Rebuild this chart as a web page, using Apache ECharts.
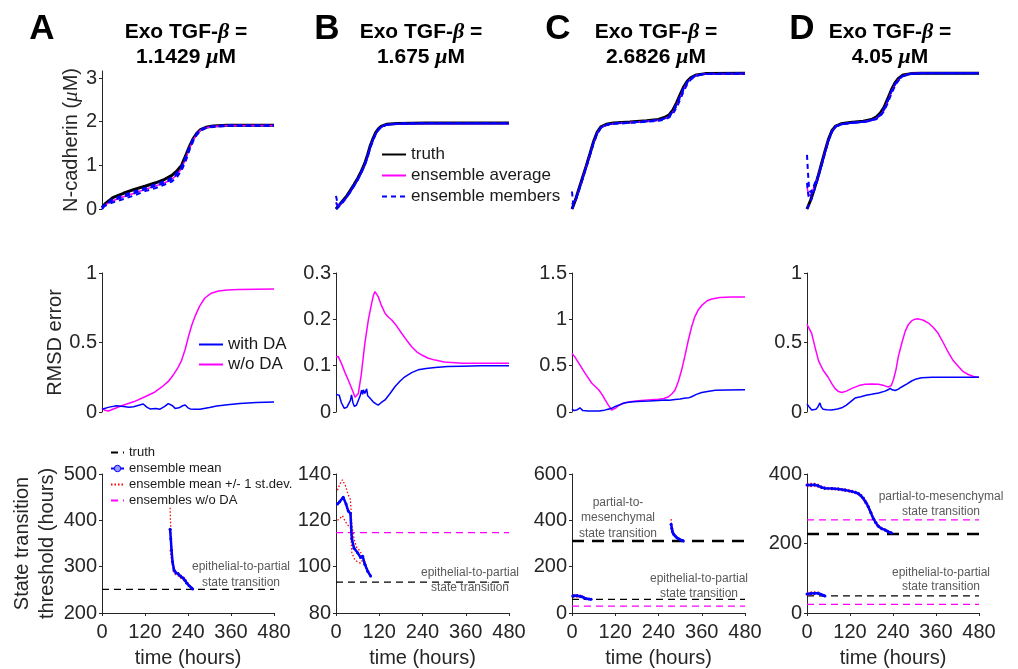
<!DOCTYPE html>
<html>
<head>
<meta charset="utf-8">
<script src="https://cdn.jsdelivr.net/npm/echarts@6/dist/echarts.min.js"></script>
<style>
  html, body { margin: 0; padding: 0; background: #fff; }
  #main { width: 1018px; height: 669px; }
</style>
</head>
<body>
<div id="main"></div>
<script>
// tick labels
const timeTicks = [0, 120, 240, 360, 480]
const ncadTicks = [0, 1, 2, 3]
const rmsdTicksA = [0, 0.5, 1]
const rmsdTicksB = [0, 0.1, 0.2, 0.3]
const rmsdTicksC = [0, 0.5, 1, 1.5]
const rmsdTicksD = [0, 0.5, 1]
const thrTicksA = [200, 300, 400, 500]
const thrTicksB = [80, 100, 120, 140]
const thrTicksC = [0, 200, 400, 600]
const thrTicksD = [0, 200, 400]

const doses = ['1.1429', '1.675', '2.6826', '4.05']
const letters = ['A', 'B', 'C', 'D']

// row 1: N-cadherin [time, value]
const truthA = [[0, 0.03], [10, 0.13], [30, 0.26], [60, 0.36], [90, 0.45], [120, 0.52], [150, 0.6], [175, 0.68], [195, 0.77], [210, 0.88], [222, 1.0], [235, 1.25], [245, 1.45], [255, 1.62], [265, 1.74], [275, 1.82], [290, 1.87], [310, 1.9], [350, 1.92], [480, 1.92]]
const avgA = [[0, 0.03], [10, 0.1], [30, 0.19], [60, 0.28], [90, 0.36], [120, 0.45], [150, 0.53], [175, 0.6], [195, 0.68], [210, 0.79], [222, 0.93], [235, 1.18], [245, 1.41], [255, 1.59], [265, 1.72], [275, 1.81], [290, 1.86], [310, 1.89], [350, 1.91], [480, 1.91]]
const memA1 = [[0, 0.0], [10, 0.1], [30, 0.2], [60, 0.28], [90, 0.36], [120, 0.45], [150, 0.53], [175, 0.6], [195, 0.68], [210, 0.8], [222, 0.94], [235, 1.2], [245, 1.42], [255, 1.6], [265, 1.72], [275, 1.81], [290, 1.86], [310, 1.89], [350, 1.91], [480, 1.91]]
const memA2 = [[0, 0.06], [10, 0.08], [30, 0.15], [60, 0.23], [90, 0.31], [120, 0.41], [150, 0.48], [175, 0.56], [195, 0.63], [210, 0.74], [222, 0.88], [235, 1.13], [245, 1.37], [255, 1.56], [265, 1.7], [275, 1.79], [290, 1.85], [310, 1.88], [350, 1.9], [480, 1.9]]
const memA3 = [[0, 0.03], [10, 0.12], [30, 0.23], [60, 0.32], [90, 0.4], [120, 0.48], [150, 0.57], [175, 0.64], [195, 0.72], [210, 0.84], [222, 0.97], [235, 1.22], [245, 1.44], [255, 1.62], [265, 1.73], [275, 1.82], [290, 1.87], [310, 1.9], [350, 1.92], [480, 1.92]]

const truthB = [[0, 0.0], [10, 0.1], [20, 0.2], [30, 0.3], [40, 0.43], [50, 0.56], [60, 0.7], [70, 0.86], [80, 1.05], [88, 1.25], [95, 1.45], [103, 1.62], [110, 1.75], [118, 1.84], [125, 1.89], [140, 1.94], [170, 1.96], [250, 1.97], [480, 1.97]]
const avgB = [[0, 0.12], [5, 0.08], [10, 0.08], [20, 0.18], [30, 0.28], [40, 0.4], [50, 0.53], [60, 0.67], [70, 0.83], [80, 1.01], [88, 1.21], [95, 1.41], [103, 1.59], [110, 1.72], [118, 1.82], [125, 1.88], [140, 1.93], [170, 1.95], [250, 1.96], [480, 1.96]]
const memB1 = [[0, 0.3], [4, 0.14], [10, 0.1], [20, 0.18], [30, 0.28], [40, 0.4], [50, 0.53], [60, 0.67], [70, 0.83], [80, 1.01], [88, 1.21], [95, 1.41], [103, 1.59], [110, 1.72], [118, 1.82], [125, 1.88], [140, 1.93], [170, 1.95], [250, 1.96], [480, 1.96]]
const memB2 = [[0, 0.0], [10, 0.07], [20, 0.16], [30, 0.27], [40, 0.39], [50, 0.52], [60, 0.66], [70, 0.82], [80, 1.0], [88, 1.19], [95, 1.39], [103, 1.57], [110, 1.71], [118, 1.81], [125, 1.87], [140, 1.93], [170, 1.95], [250, 1.96], [480, 1.96]]
const memB3 = [[0, 0.15], [5, 0.06], [10, 0.08], [20, 0.19], [30, 0.29], [40, 0.42], [50, 0.55], [60, 0.69], [70, 0.85], [80, 1.03], [88, 1.23], [95, 1.43], [103, 1.6], [110, 1.73], [118, 1.83], [125, 1.88], [140, 1.93], [170, 1.96], [250, 1.97], [480, 1.97]]

const truthC = [[0, 0.0], [10, 0.22], [20, 0.48], [30, 0.74], [40, 1.0], [50, 1.27], [60, 1.55], [70, 1.76], [80, 1.88], [95, 1.94], [115, 1.97], [160, 1.99], [207, 2.02], [240, 2.05], [258, 2.1], [270, 2.16], [280, 2.27], [290, 2.43], [300, 2.62], [310, 2.8], [320, 2.93], [330, 3.01], [345, 3.07], [370, 3.1], [480, 3.11]]
const avgC = [[0, 0.12], [10, 0.2], [20, 0.46], [30, 0.72], [40, 0.98], [50, 1.25], [60, 1.53], [70, 1.74], [80, 1.86], [95, 1.93], [115, 1.96], [160, 1.98], [207, 2.01], [240, 2.03], [258, 2.07], [270, 2.12], [280, 2.22], [290, 2.37], [300, 2.56], [310, 2.75], [320, 2.9], [330, 2.99], [345, 3.06], [370, 3.09], [480, 3.1]]
const memC1 = [[0, 0.4], [3, 0.12], [10, 0.2], [20, 0.46], [30, 0.72], [40, 0.98], [50, 1.25], [60, 1.53], [70, 1.74], [80, 1.86], [95, 1.93], [115, 1.96], [160, 1.98], [207, 2.01], [240, 2.03], [258, 2.07], [270, 2.12], [280, 2.21], [290, 2.36], [300, 2.55], [310, 2.74], [320, 2.89], [330, 2.99], [345, 3.06], [370, 3.09], [480, 3.1]]
const memC2 = [[0, 0.0], [10, 0.19], [20, 0.44], [30, 0.7], [40, 0.96], [50, 1.23], [60, 1.5], [70, 1.72], [80, 1.85], [95, 1.92], [115, 1.95], [160, 1.97], [207, 2.0], [240, 2.02], [258, 2.05], [270, 2.1], [280, 2.18], [290, 2.32], [300, 2.5], [310, 2.7], [320, 2.86], [330, 2.97], [345, 3.05], [370, 3.09], [480, 3.1]]
const memC3 = [[0, 0.1], [10, 0.21], [20, 0.47], [30, 0.73], [40, 0.99], [50, 1.26], [60, 1.54], [70, 1.75], [80, 1.87], [95, 1.93], [115, 1.96], [160, 1.98], [207, 2.01], [240, 2.04], [258, 2.08], [270, 2.14], [280, 2.24], [290, 2.4], [300, 2.59], [310, 2.77], [320, 2.91], [330, 3.0], [345, 3.07], [370, 3.1], [480, 3.11]]

const truthD = [[0, 0.0], [10, 0.2], [20, 0.45], [30, 0.72], [40, 1.02], [50, 1.32], [60, 1.6], [70, 1.8], [80, 1.9], [95, 1.95], [120, 1.98], [157, 2.01], [180, 2.05], [194, 2.11], [205, 2.2], [215, 2.33], [225, 2.52], [235, 2.72], [245, 2.88], [255, 2.99], [268, 3.07], [290, 3.1], [320, 3.11], [480, 3.11]]
const avgD = [[0, 0.5], [4, 0.35], [8, 0.3], [14, 0.38], [20, 0.5], [30, 0.71], [40, 1.0], [50, 1.3], [60, 1.58], [70, 1.78], [80, 1.89], [95, 1.94], [120, 1.97], [157, 2.0], [180, 2.03], [194, 2.08], [205, 2.15], [215, 2.27], [225, 2.46], [235, 2.67], [245, 2.84], [255, 2.96], [268, 3.05], [290, 3.1], [320, 3.11], [480, 3.11]]
const memD1 = [[0, 1.24], [3, 0.8], [6, 0.45], [10, 0.38], [15, 0.45], [20, 0.55], [30, 0.74], [40, 1.0], [50, 1.3], [60, 1.58], [70, 1.78], [80, 1.89], [95, 1.94], [120, 1.97], [157, 2.0], [180, 2.03], [194, 2.08], [205, 2.15], [215, 2.27], [225, 2.46], [235, 2.67], [245, 2.84], [255, 2.96], [268, 3.05], [290, 3.1], [320, 3.11], [480, 3.11]]
const memD2 = [[0, 0.0], [10, 0.17], [20, 0.42], [30, 0.68], [40, 0.97], [50, 1.27], [60, 1.56], [70, 1.77], [80, 1.88], [95, 1.94], [120, 1.97], [157, 1.99], [180, 2.02], [194, 2.06], [205, 2.13], [215, 2.24], [225, 2.42], [235, 2.63], [245, 2.81], [255, 2.94], [268, 3.04], [290, 3.09], [320, 3.11], [480, 3.11]]
const memD3 = [[0, 0.6], [4, 0.3], [8, 0.25], [14, 0.35], [20, 0.5], [30, 0.7], [40, 0.99], [50, 1.29], [60, 1.58], [70, 1.79], [80, 1.89], [95, 1.94], [120, 1.97], [157, 2.0], [180, 2.04], [194, 2.09], [205, 2.17], [215, 2.3], [225, 2.49], [235, 2.7], [245, 2.86], [255, 2.97], [268, 3.06], [290, 3.1], [320, 3.11], [480, 3.11]]

// row 2: RMSD error
const withDaA = [[0, 0.02], [20, 0.035], [41, 0.045], [60, 0.04], [75, 0.035], [88, 0.038], [105, 0.05], [115, 0.058], [125, 0.035], [134, 0.022], [150, 0.025], [162, 0.02], [175, 0.04], [185, 0.06], [190, 0.067], [197, 0.045], [204, 0.026], [215, 0.03], [225, 0.045], [232, 0.05], [240, 0.03], [246, 0.022], [260, 0.02], [273, 0.02], [300, 0.033], [320, 0.043], [350, 0.053], [385, 0.062], [430, 0.068], [480, 0.072]]
const woDaA = [[0, 0.027], [8, 0.012], [18, 0.007], [30, 0.02], [55, 0.045], [90, 0.075], [120, 0.11], [145, 0.14], [167, 0.18], [185, 0.22], [200, 0.27], [212, 0.32], [222, 0.37], [232, 0.45], [241, 0.54], [250, 0.62], [260, 0.69], [272, 0.76], [287, 0.82], [305, 0.855], [325, 0.87], [350, 0.878], [380, 0.882], [480, 0.885]]
const withDaB = [[0, 0.038], [3, 0.04], [9, 0.036], [15, 0.02], [23, 0.008], [30, 0.01], [34, 0.012], [40, 0.025], [43, 0.037], [47, 0.02], [51, 0.012], [57, 0.015], [62, 0.019], [67, 0.035], [71, 0.047], [74, 0.038], [76, 0.048], [80, 0.04], [85, 0.05], [88, 0.035], [94, 0.03], [98, 0.032], [103, 0.022], [110, 0.018], [117, 0.015], [125, 0.02], [136, 0.026], [150, 0.04], [164, 0.055], [178, 0.067], [191, 0.076], [210, 0.085], [228, 0.091], [250, 0.094], [275, 0.096], [310, 0.098], [350, 0.099], [400, 0.1], [480, 0.1]]
const woDaB = [[0, 0.119], [6, 0.12], [15, 0.105], [25, 0.085], [34, 0.069], [45, 0.048], [53, 0.032], [58, 0.031], [62, 0.04], [70, 0.08], [80, 0.148], [90, 0.2], [99, 0.235], [104, 0.252], [108, 0.26], [112, 0.257], [117, 0.249], [126, 0.23], [136, 0.213], [145, 0.205], [154, 0.199], [168, 0.186], [182, 0.17], [196, 0.155], [210, 0.141], [224, 0.13], [238, 0.123], [256, 0.116], [275, 0.112], [300, 0.108], [350, 0.105], [480, 0.105]]
const withDaC = [[0, 0.03], [6, 0.015], [10, 0.01], [15, 0.025], [20, 0.04], [22, 0.045], [26, 0.03], [30, 0.015], [45, 0.012], [60, 0.01], [75, 0.012], [90, 0.02], [100, 0.03], [110, 0.04], [120, 0.06], [133, 0.08], [147, 0.1], [170, 0.11], [195, 0.117], [214, 0.12], [240, 0.125], [260, 0.13], [270, 0.127], [286, 0.135], [300, 0.14], [315, 0.15], [325, 0.155], [332, 0.165], [345, 0.19], [360, 0.21], [380, 0.225], [398, 0.235], [430, 0.238], [480, 0.24]]
const woDaC = [[0, 0.63], [7, 0.6], [20, 0.52], [36, 0.42], [55, 0.31], [74, 0.24], [85, 0.18], [92, 0.13], [100, 0.08], [110, 0.022], [114, 0.02], [120, 0.04], [130, 0.07], [142, 0.094], [160, 0.11], [184, 0.122], [210, 0.13], [240, 0.137], [255, 0.145], [268, 0.165], [278, 0.2], [286, 0.237], [295, 0.33], [304, 0.45], [313, 0.6], [323, 0.78], [332, 0.92], [341, 1.03], [350, 1.1], [360, 1.15], [375, 1.2], [388, 1.22], [410, 1.235], [443, 1.24], [480, 1.24]]
const withDaD = [[0, 0.058], [4, 0.045], [8, 0.03], [13, 0.015], [18, 0.01], [25, 0.02], [30, 0.035], [33, 0.045], [36, 0.065], [40, 0.035], [45, 0.02], [55, 0.017], [69, 0.015], [85, 0.022], [97, 0.03], [110, 0.05], [122, 0.075], [134, 0.1], [150, 0.11], [165, 0.12], [180, 0.127], [200, 0.137], [218, 0.15], [226, 0.16], [232, 0.17], [238, 0.16], [246, 0.155], [255, 0.165], [264, 0.18], [278, 0.2], [292, 0.223], [305, 0.238], [320, 0.247], [350, 0.25], [480, 0.25]]
const woDaD = [[0, 0.63], [5, 0.62], [13, 0.566], [22, 0.47], [32, 0.37], [45, 0.3], [59, 0.25], [70, 0.2], [78, 0.17], [88, 0.147], [97, 0.14], [110, 0.15], [125, 0.17], [145, 0.19], [162, 0.2], [180, 0.202], [199, 0.2], [215, 0.19], [227, 0.18], [235, 0.19], [241, 0.23], [248, 0.3], [255, 0.4], [265, 0.5], [274, 0.58], [283, 0.63], [292, 0.655], [301, 0.668], [311, 0.67], [325, 0.66], [339, 0.64], [352, 0.61], [366, 0.566], [380, 0.5], [394, 0.43], [408, 0.37], [422, 0.33], [436, 0.29], [450, 0.27], [465, 0.255], [480, 0.25]]

// row 3: state transition thresholds (hours)
const thrTruthA = [251]
const thrWoA = []
const thrTruthB = [93.3]
const thrWoB = [114.7]
const thrTruthC = [59]
const thrTruthC2 = [311]
const thrWoC = [30]
const thrTruthD = [49]
const thrTruthD2 = [227]
const thrWoD = [25, 268]

const meanA = [[190, 381], [192, 360], [194, 336], [197, 310], [201, 293], [206, 287], [213, 284], [220, 279], [227, 275], [232, 270], [236, 265], [243, 259], [250, 254], [253, 252]]
const upA = [[190, 427], [191, 400], [193, 360], [196, 320], [200, 300], [206, 290], [213, 287], [220, 282], [227, 278], [233, 272], [238, 267], [245, 260], [250, 256], [253, 253]]
const loA = [[190, 336], [192, 325], [195, 310], [199, 290], [205, 283], [213, 280], [220, 275], [227, 271], [233, 266], [238, 262], [245, 257], [250, 252], [253, 250]]

const meanB = [[4, 127], [10, 128], [20, 130], [28, 127], [34, 124], [40, 123], [44, 112], [50, 108], [60, 106], [68, 104], [74, 104.5], [80, 101], [88, 98], [96, 96]]
const upB = [[4, 133], [12, 136], [18, 137.5], [26, 135], [34, 131], [40, 129], [44, 118], [50, 112], [58, 108], [66, 107], [72, 105], [80, 102], [90, 98], [96, 95.5]]
const loB = [[4, 120], [12, 121], [18, 122], [24, 120], [32, 118], [40, 117], [44, 106], [52, 103], [60, 102], [68, 101.5], [74, 103], [82, 100], [90, 97], [96, 95.5]]

const meanC = [[2, 73], [8, 74], [15, 74], [22, 72], [28, 70], [34, 65], [40, 62], [47, 60], [53, 59]]
const upC = [[2, 78], [8, 79], [15, 79], [22, 77], [28, 74], [34, 68], [40, 64], [47, 61], [53, 60]]
const loC = [[2, 68], [8, 69], [15, 69], [22, 67], [28, 65], [34, 61], [40, 59], [47, 58], [53, 58]]
const meanC2 = [[275, 383], [277, 365], [279, 350], [282, 340], [286, 332], [291, 325], [296, 320], [301, 316], [306, 313], [309, 311]]
const upC2 = [[275, 405], [276, 385], [278, 365], [281, 350], [285, 338], [290, 328], [296, 322], [301, 317], [306, 314], [309, 312]]
const loC2 = [[275, 370], [277, 355], [280, 343], [284, 334], [289, 326], [295, 320], [301, 315], [306, 312], [309, 310]]

const meanD = [[0, 55], [10, 56], [20, 57], [31, 57], [38, 54], [45, 51], [50, 49]]
const upD = [[0, 59], [10, 60], [20, 61], [31, 60], [38, 57], [45, 53], [50, 50]]
const loD = [[0, 51], [10, 52], [20, 53], [31, 54], [38, 51], [45, 49], [50, 48]]
const meanD2 = [[0, 368], [10, 368], [20, 369], [31, 366], [40, 362], [50, 359], [70, 358], [87, 357], [105, 354], [125, 350], [135, 347], [143, 344], [150, 338], [157, 330], [164, 319], [171, 306], [178, 289], [185, 272], [192, 260], [199, 250], [208, 243], [218, 239], [225, 235], [232, 232], [236, 230]]
const upD2 = [[0, 372], [10, 373], [20, 373], [31, 370], [40, 365], [50, 362], [70, 360], [87, 359], [105, 357], [125, 353], [135, 350], [143, 347], [150, 342], [157, 335], [164, 324], [171, 311], [178, 294], [185, 277], [192, 264], [199, 254], [208, 246], [218, 241], [225, 237], [232, 233], [236, 231]]
const loD2 = [[0, 364], [10, 364], [20, 365], [31, 362], [40, 359], [50, 356], [70, 355], [87, 354], [105, 351], [125, 347], [135, 344], [143, 340], [150, 334], [157, 325], [164, 314], [171, 301], [178, 284], [185, 268], [192, 256], [199, 247], [208, 240], [218, 236], [225, 233], [232, 230], [236, 229]]

// 布局
const FONT = '"Liberation Sans", Arial, Helvetica, sans-serif'
const AXC = '#262626'
const colLeft = [102, 336, 572, 807]
const colWidth = [172, 173, 173, 172]
const rowTop = [71, 273, 474]
const rowHeight = [138, 139, 139]
const ncadMax = 3.16

const grids = []
const xAxes = []
const yAxes = []
const series = []

function addPanel(row, col, yTicks, yMax, showY, yName, nameGap, nameStyle) {
  grids.push({
    left: colLeft[col], top: rowTop[row], width: colWidth[col], height: rowHeight[row],
    containLabel: false, outerBoundsMode: 'none'
  })
  const gi = grids.length - 1
  xAxes.push({
    gridIndex: gi, type: 'value', min: timeTicks[0], max: timeTicks[timeTicks.length - 1],
    interval: timeTicks[1] - timeTicks[0],
    show: row === 2,
    axisLine: { show: true, onZero: false, lineStyle: { color: AXC, width: 1 } },
    axisTick: { show: true, length: 3, lineStyle: { color: AXC } },
    axisLabel: { margin: 9, fontSize: 20, color: AXC, fontFamily: FONT },
    splitLine: { show: false },
    name: 'time (hours)', nameLocation: 'middle', nameGap: 35,
    nameTextStyle: { fontSize: 20, color: AXC, fontFamily: FONT }
  })
  yAxes.push({
    gridIndex: gi, type: 'value', min: yTicks[0], max: yMax,
    interval: yTicks[1] - yTicks[0],
    show: showY,
    axisLine: { show: true, onZero: false, lineStyle: { color: AXC, width: 1 } },
    axisTick: { show: true, length: 3, customValues: yTicks, lineStyle: { color: AXC } },
    axisLabel: { margin: 5, fontSize: 20, color: AXC, fontFamily: FONT, customValues: yTicks },
    splitLine: { show: false },
    name: yName || '', nameLocation: 'middle', nameGap: nameGap || 0,
    nameTextStyle: Object.assign({ fontSize: 20, color: AXC, fontFamily: FONT }, nameStyle || {})
  })
  return gi
}

function line(gi, name, data, color, width, type, extra) {
  return Object.assign({
    type: 'line', name: name, xAxisIndex: gi, yAxisIndex: gi, data: data,
    symbol: 'none', silent: true, animation: false, clip: true,
    lineStyle: { color: color, width: width, type: type },
    itemStyle: { color: color }
  }, extra || {})
}

function hline(gi, name, value, color, width, dash) {
  return line(gi, name, [[timeTicks[0], value], [timeTicks[timeTicks.length - 1], value]], color, width, dash)
}

// row 1
const ncadData = [
  [truthA, avgA, [memA1, memA2, memA3]],
  [truthB, avgB, [memB1, memB2, memB3]],
  [truthC, avgC, [memC1, memC2, memC3]],
  [truthD, avgD, [memD1, memD2, memD3]]
]
ncadData.forEach((d, col) => {
  const gi = addPanel(0, col, ncadTicks, ncadMax, col === 0, '{n|N-cadherin (}{i|μ}{n|M)}', 18, {
    rich: {
      n: { fontSize: 20, color: AXC, fontFamily: FONT },
      i: { fontSize: 21, color: AXC, fontFamily: '"Liberation Serif", "DejaVu Serif", serif', fontStyle: 'italic' }
    }
  })
  series.push(line(gi, 'truth', d[0], '#000000', 3, 'solid'))
  series.push(line(gi, 'ensemble average', d[1], '#ff00ff', 1.5, 'solid'))
  d[2].forEach(m => series.push(line(gi, 'ensemble members', m, '#0000ff', 2, [5, 4])))
})

// row 2
const rmsdData = [
  [rmsdTicksA, withDaA, woDaA],
  [rmsdTicksB, withDaB, woDaB],
  [rmsdTicksC, withDaC, woDaC],
  [rmsdTicksD, withDaD, woDaD]
]
rmsdData.forEach((d, col) => {
  const ticks = d[0]
  const gi = addPanel(1, col, ticks, ticks[ticks.length - 1], true, col === 0 ? 'RMSD error' : '', 37)
  series.push(line(gi, 'w/o DA', d[2], '#ff00ff', 1.5, 'solid'))
  series.push(line(gi, 'with DA', d[1], '#0000ff', 1.5, 'solid'))
})

// row 3
const thrData = [
  { ticks: thrTicksA, truth: thrTruthA, truth2: [], wo: thrWoA, bands: [[meanA, upA, loA]] },
  { ticks: thrTicksB, truth: thrTruthB, truth2: [], wo: thrWoB, bands: [[meanB, upB, loB]] },
  { ticks: thrTicksC, truth: thrTruthC, truth2: thrTruthC2, wo: thrWoC, bands: [[meanC, upC, loC], [meanC2, upC2, loC2]] },
  { ticks: thrTicksD, truth: thrTruthD, truth2: thrTruthD2, wo: thrWoD, bands: [[meanD, upD, loD], [meanD2, upD2, loD2]] }
]
thrData.forEach((d, col) => {
  const ticks = d.ticks
  const gi = addPanel(2, col, ticks, ticks[ticks.length - 1], true,
    col === 0 ? 'State transition\nthreshold (hours)' : '', 33, { lineHeight: 25 })
  d.truth.forEach(v => series.push(hline(gi, 'truth3', v, '#000000', 1.3, [7, 5])))
  d.truth2.forEach(v => series.push(hline(gi, 'truth3b', v, '#000000', 2.5, [12, 8])))
  d.wo.forEach(v => series.push(hline(gi, 'ensembles w/o DA', v, '#ff00ff', 1.3, [7, 5])))
  d.bands.forEach(b => {
    series.push(line(gi, 'ensemble mean +/- 1 st.dev.', b[1], '#ff0000', 1.3, [1.5, 2]))
    series.push(line(gi, 'ensemble mean +/- 1 st.dev.', b[2], '#ff0000', 1.3, [1.5, 2]))
    series.push(line(gi, 'ensemble mean', b[0], '#0000ff', 2.5, 'solid', {
      symbol: 'circle', symbolSize: 3, showSymbol: true
    }))
  })
})

// 标题
const titles = []
const titleCenters = [186, 421, 656, 890]
const letterCenters = [42, 327, 558, 802]
letters.forEach((l, i) => {
  titles.push({
    text: l, left: letterCenters[i], top: 12, textAlign: 'center', padding: 0,
    textStyle: { fontSize: 35, fontWeight: 'bold', color: '#000', fontFamily: FONT }
  })
  titles.push({
    text: '{b|Exo TGF-}{i|β}{b| =}\n{b|' + doses[i] + ' }{i|μ}{b|M}',
    left: titleCenters[i], top: 20, textAlign: 'center', padding: 0,
    textStyle: {
      rich: {
        b: { fontSize: 21, fontWeight: 'bold', color: '#000', fontFamily: FONT, lineHeight: 25 },
        i: { fontSize: 22, fontStyle: 'italic', color: '#000', fontFamily: '"Liberation Serif", "DejaVu Serif", serif', lineHeight: 25 }
      }
    }
  })
})

// 注释文字
const notes = [
  { x: 241, y: 575, lh: 16, text: 'epithelial-to-partial\nstate transition' },
  { x: 470, y: 580, lh: 15, text: 'epithelial-to-partial\nstate transition' },
  { x: 618, y: 518, lh: 15.5, text: 'partial-to-\nmesenchymal\nstate transition' },
  { x: 699, y: 586, lh: 15, text: 'epithelial-to-partial\nstate transition' },
  { x: 941, y: 504, lh: 15, text: 'partial-to-mesenchymal\nstate transition' },
  { x: 941, y: 580, lh: 14, text: 'epithelial-to-partial\nstate transition' }
].map(n => ({
  type: 'text', x: n.x, y: n.y, silent: true, z: 50,
  style: {
    text: n.text, fill: '#595959', fontSize: 12, fontFamily: FONT, lineHeight: n.lh,
    align: 'center', verticalAlign: 'middle', textAlign: 'center', textVerticalAlign: 'middle'
  }
}))

// 图例: 只画线, 不画圆点 (ensemble mean 除外)
const noDot = { opacity: 0 }
const legends = [
  {
    orient: 'vertical', padding: 0, selectedMode: false,
    left: 381, top: 146, itemWidth: 24, itemHeight: 14, itemGap: 4,
    itemStyle: noDot,
    data: ['truth', 'ensemble average', 'ensemble members'],
    textStyle: { fontSize: 17, color: '#1a1a1a', fontFamily: FONT }
  },
  {
    orient: 'vertical', padding: 0, selectedMode: false,
    left: 198, top: 336, itemWidth: 24, itemHeight: 14, itemGap: 3,
    itemStyle: noDot,
    data: ['with DA', 'w/o DA'],
    textStyle: { fontSize: 17, color: '#1a1a1a', fontFamily: FONT }
  },
  {
    orient: 'vertical', padding: 0, selectedMode: false,
    left: 110, top: 446, itemWidth: 13, itemHeight: 8, itemGap: 3,
    data: [
      { name: 'truth3', itemStyle: noDot },
      { name: 'ensemble mean', itemStyle: { color: '#9999ff', borderColor: '#0000ff', borderWidth: 1 } },
      { name: 'ensemble mean +/- 1 st.dev.', itemStyle: noDot },
      { name: 'ensembles w/o DA', itemStyle: noDot }
    ],
    formatter: name => name === 'truth3' ? 'truth' : name,
    textStyle: { fontSize: 13, color: '#1a1a1a', fontFamily: FONT }
  }
]

const chart = echarts.init(document.getElementById('main'), null, { renderer: 'canvas' })
chart.setOption({
  animation: false,
  backgroundColor: '#ffffff',
  title: titles,
  legend: legends,
  grid: grids,
  xAxis: xAxes,
  yAxis: yAxes,
  series: series,
  graphic: notes
})
</script>
</body>
</html>
